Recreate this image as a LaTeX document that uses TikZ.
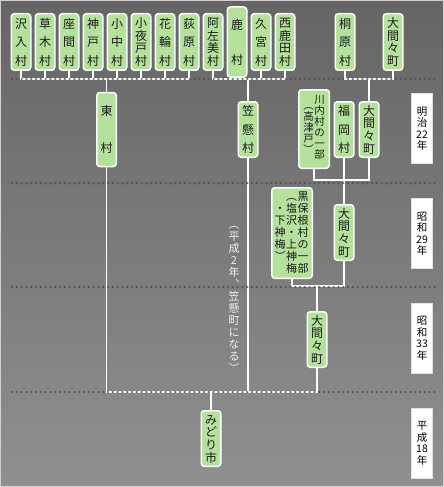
\documentclass[tikz,border=0pt]{standalone}
\usepackage{fontspec}
\setmainfont{Noto Sans CJK JP}
\definecolor{boxgreen}{HTML}{B4E19C}
\definecolor{boxtext}{HTML}{1A1A1A}
\definecolor{bgtop}{HTML}{656565}
\definecolor{bgbot}{HTML}{909090}
\definecolor{notecol}{HTML}{F0F0F0}
\definecolor{dotcol}{HTML}{4A4A4A}
\newlength\cpitch
\newcommand\vk[1]{\hbox to 1em{\hss\vrule height \dimexpr\cpitch/2+0.38em\relax depth \dimexpr\cpitch/2-0.38em\relax width 0pt\relax #1\hss}}
\newcommand\tcol[2]{\vbox{\offinterlineskip\setlength\cpitch{#1}#2}}
\begin{document}
\begin{tikzpicture}[x=1pt,y=-1pt,
  conn/.style={draw=white, line width=1.5pt},
  dotfill/.style={fill=dotcol, opacity=0.72},
  vbox/.style={draw=white, line width=1.5pt, fill=boxgreen, rounded corners=3pt, inner sep=0pt, minimum width=19.5pt, minimum height=56.5pt, text=boxtext, font=\fontsize{12}{14}\selectfont},
  era/.style={fill=white, draw=black!12, line width=0.6pt, inner sep=0pt, minimum width=21pt, minimum height=70pt, text=black, font=\fontsize{10.5}{12}\selectfont},
  col/.style={inner sep=0pt, text=boxtext},
]
\useasboundingbox (0,0) rectangle (444,487);
\shade[top color=bgtop, bottom color=bgbot] (0,0) rectangle (444,487);
\draw[black!18, line width=1pt] (0.5,0.5) rectangle (443.5,486.5);

% row 1
\node[vbox] (v1) at (21,42) {\tcol{18.5pt}{\vk{沢}\vk{入}\vk{村}}};
\node[vbox] (v2) at (45,42) {\tcol{18.5pt}{\vk{草}\vk{木}\vk{村}}};
\node[vbox] (v3) at (69,42) {\tcol{18.5pt}{\vk{座}\vk{間}\vk{村}}};
\node[vbox] (v4) at (93,42) {\tcol{18.5pt}{\vk{神}\vk{戸}\vk{村}}};
\node[vbox] (v5) at (117,42) {\tcol{18.5pt}{\vk{小}\vk{中}\vk{村}}};
\node[vbox] (v6) at (141,42) {\tcol{12.7pt}{\vk{小}\vk{夜}\vk{戸}\vk{村}}};
\node[vbox] (v7) at (165,42) {\tcol{18.5pt}{\vk{花}\vk{輪}\vk{村}}};
\node[vbox] (v8) at (189,42) {\tcol{18.5pt}{\vk{荻}\vk{原}\vk{村}}};
\node[vbox] (v9) at (213,42) {\tcol{12.7pt}{\vk{阿}\vk{左}\vk{美}\vk{村}}};
\node[vbox] (v10) at (237,42) {\tcol{35pt}{\vk{鹿}\vk{村}}};
\node[vbox] (v11) at (261,42) {\tcol{18.5pt}{\vk{久}\vk{宮}\vk{村}}};
\node[vbox] (v12) at (285,42) {\tcol{12.7pt}{\vk{西}\vk{鹿}\vk{田}\vk{村}}};
\node[vbox] (kiri) at (345,42) {\tcol{18.5pt}{\vk{桐}\vk{原}\vk{村}}};
\node[vbox] (oo1) at (393,42) {\tcol{12.7pt}{\vk{大}\vk{間}\vk{々}\vk{町}}};

% row 2
\node[vbox, minimum height=55.5pt] (higashi) at (106.5,129.5) {\tcol{37pt}{\vk{東}\vk{村}}};
\node[vbox, minimum height=55.5pt] (kasa) at (248,129.5) {\tcol{18.5pt}{\vk{笠}\vk{懸}\vk{村}}};
\node[vbox, minimum width=30.5pt, minimum height=78.5pt] (kawa) at (314,129) {};
\node[col, anchor=north, font=\fontsize{10.5}{12}\selectfont] (kawaR) at (319.5,94) {\tcol{11pt}{\vk{川}\vk{内}\vk{村}\vk{の}\vk{一}\vk{部}}};
\node[col, anchor=north, font=\fontsize{10.5}{12}\selectfont] (kawaL) at (308.5,100) {\tcol{11pt}{\vk{︵}\vk{高}\vk{津}\vk{戸}\vk{︶}}};
\node[vbox, minimum height=55.5pt] (fuku) at (344,129.5) {\tcol{18.5pt}{\vk{福}\vk{岡}\vk{村}}};
\node[vbox, minimum height=55.5pt] (oo2) at (369,129.5) {\tcol{12.7pt}{\vk{大}\vk{間}\vk{々}\vk{町}}};

% row 3
\node[vbox, minimum width=40.5pt, minimum height=90.5pt] (kuro) at (292,233) {};
\node[col, anchor=north, font=\fontsize{11}{12}\selectfont] (kuroR) at (303,190.5) {\tcol{12pt}{\vk{黒}\vk{保}\vk{根}\vk{村}\vk{の}\vk{一}\vk{部}}};
\node[col, anchor=north, font=\fontsize{11}{12}\selectfont] (kuroM) at (291.5,190.5) {\tcol{12pt}{\vk{︵}\vk{塩}\vk{沢}\vk{・}\vk{上}\vk{神}\vk{梅}}};
\node[col, anchor=north, font=\fontsize{11}{12}\selectfont] (kuroL) at (280,202.5) {\tcol{12pt}{\vk{・}\vk{下}\vk{神}\vk{梅}\vk{︶}}};
\node[vbox, minimum height=55.5pt] (oo3) at (344,232.5) {\tcol{12.7pt}{\vk{大}\vk{間}\vk{々}\vk{町}}};

% row 4
\node[vbox, minimum height=55.5pt] (oo4) at (317,339.5) {\tcol{12.7pt}{\vk{大}\vk{間}\vk{々}\vk{町}}};

% row 5
\node[vbox, minimum height=55.5pt] (midori) at (211,438.5) {\tcol{12.7pt}{\vk{み}\vk{ど}\vk{り}\vk{市}}};

% era labels
\node[era] (e1) at (422,128.5) {\tcol{11.5pt}{\vk{明}\vk{治}\vk{22}\vk{年}}};
\node[era] (e2) at (422,233.5) {\tcol{11.5pt}{\vk{昭}\vk{和}\vk{29}\vk{年}}};
\node[era] (e3) at (422,338) {\tcol{11.5pt}{\vk{昭}\vk{和}\vk{33}\vk{年}}};
\node[era] (e4) at (422,443) {\tcol{11.5pt}{\vk{平}\vk{成}\vk{18}\vk{年}}};

% note
\node[inner sep=0pt, text=notecol, font=\fontsize{11}{12}\selectfont] (note) at (234,296.5) {\tcol{12pt}{\vk{︵}\vk{平}\vk{成}\vk{2}\vk{年}\vk{︑}\vk{笠}\vk{懸}\vk{町}\vk{に}\vk{な}\vk{る}\vk{︶}}};

% junctions
\coordinate (j1) at (106.5,79);
\coordinate (j2) at (248,79);
\coordinate (j3) at (369,79);
\coordinate (j4) at (344,180);
\coordinate (j5) at (317,286);
\coordinate (j6) at (211,392);

% connectors
\foreach \n in {v1,v2,v3,v4,v5,v6,v7,v8} \draw[conn] (\n.south) |- (j1);
\draw[conn] (j1) -- (higashi.north);
\foreach \n in {v9,v10,v11,v12} \draw[conn] (\n.south) |- (j2);
\draw[conn] (j2) -- (kasa.north);
\draw[conn] (kiri.south) |- (j3);
\draw[conn] (oo1.south) |- (j3);
\draw[conn] (j3) -- (oo2.north);
\draw[conn] (kawa.south) |- (j4);
\draw[conn] (oo2.south) |- (j4);
\draw[conn] (fuku.south) -- (oo3.north);
\draw[conn] (kuro.south) |- (j5);
\draw[conn] (oo3.south) |- (j5);
\draw[conn] (j5) -- (oo4.north);
\draw[conn] (higashi.south) |- (j6);
\draw[conn] (kasa.south) |- (j6);
\draw[conn] (oo4.south) |- (j6);
\draw[conn] (j6) -- (midori.north);

% dotted era separators
\foreach \yy in {79,183,287,392}
  \foreach \i in {0,...,88}
    \fill[dotfill] (12+\i*4.8,\yy) circle (1.35pt);
\end{tikzpicture}
\end{document}
